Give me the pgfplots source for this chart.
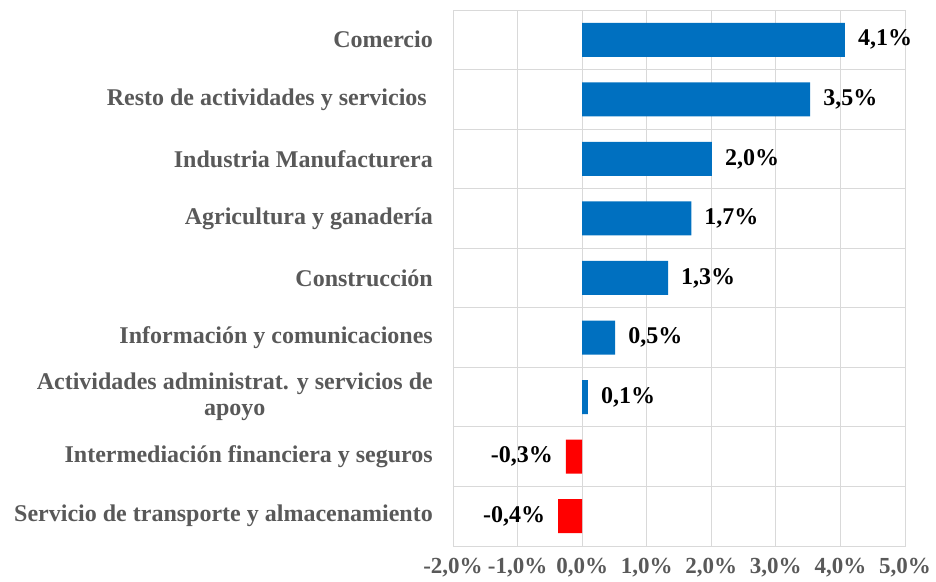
\documentclass[border=0pt]{standalone}
\usepackage{pgfplots}
\pgfplotsset{compat=1.18}
\usepackage{fontspec}
\setmainfont{Liberation Serif}
\definecolor{barblue}{HTML}{0070C0}
\definecolor{barred}{HTML}{FF0000}
\definecolor{txtgray}{HTML}{595959}
\definecolor{gridgray}{HTML}{D9D9D9}

\begin{document}
\begin{tikzpicture}
\begin{axis}[
  name=ax,
  xbar, bar width=34pt, bar shift=0pt,
  scale only axis, width=452pt, height=536pt,
  xmin=-2, xmax=5, ymin=-0.5, ymax=8.5,
  xtick={-2,-1,0,1,2,3,4,5},
  xticklabels={{-2,0\%},{-1,0\%},{0,0\%},{1,0\%},{2,0\%},{3,0\%},{4,0\%},{5,0\%}},
  ytick={0,1,2,3,4,5,6,7,8},
  yticklabels={Servicio de transporte y almacenamiento,
    Intermediación financiera y seguros,
    {Actividades administrat. y servicios de\\apoyo},
    Información y comunicaciones,
    Construcción,
    Agricultura y ganadería,
    Industria Manufacturera,
    Resto de actividades y servicios\ ,
    Comercio},
  minor ytick={0.5,1.5,2.5,3.5,4.5,5.5,6.5,7.5},
  xmajorgrids, yminorgrids,
  grid style={draw=gridgray, line width=0.8pt},
  minor grid style={draw=gridgray, line width=0.8pt},
  axis line style={draw=gridgray, line width=0.8pt},
  tick style={draw=none},
  major tick length=0pt, minor tick length=0pt,
  xticklabel style={font=\fontsize{23}{25}\selectfont\bfseries, text=txtgray, inner sep=0pt},
  xticklabel shift=12pt,
  yticklabel style={font=\fontsize{24}{26}\selectfont\bfseries, text=txtgray, align=center, inner sep=0pt},
  yticklabel shift=20pt,
  point meta=explicit symbolic,
  nodes near coords={\pgfplotspointmeta\%},
  nodes near coords style={font=\fontsize{24}{26}\selectfont\bfseries, text=black, inner sep=0pt},
  nodes near coords align=horizontal,
]
\addplot[fill=barblue, draw=none,
  every node near coord/.append style={anchor=west, xshift=13pt}] table[meta=lab] {
x     y  lab
4.07  8  4,1
3.53  7  3,5
2.01  6  2,0
1.69  5  1,7
1.33  4  1,3
0.51  3  0,5
0.09  2  0,1
};
\addplot[fill=barred, draw=none,
  every node near coord/.append style={anchor=east, xshift=-13pt}] table[meta=lab] {
x      y  lab
-0.25  1  -0,3
-0.37  0  -0,4
};
\end{axis}
\path ([xshift=-453pt,yshift=-36pt]ax.south west) rectangle ([xshift=31pt,yshift=10pt]ax.north east);
\end{tikzpicture}
\end{document}
